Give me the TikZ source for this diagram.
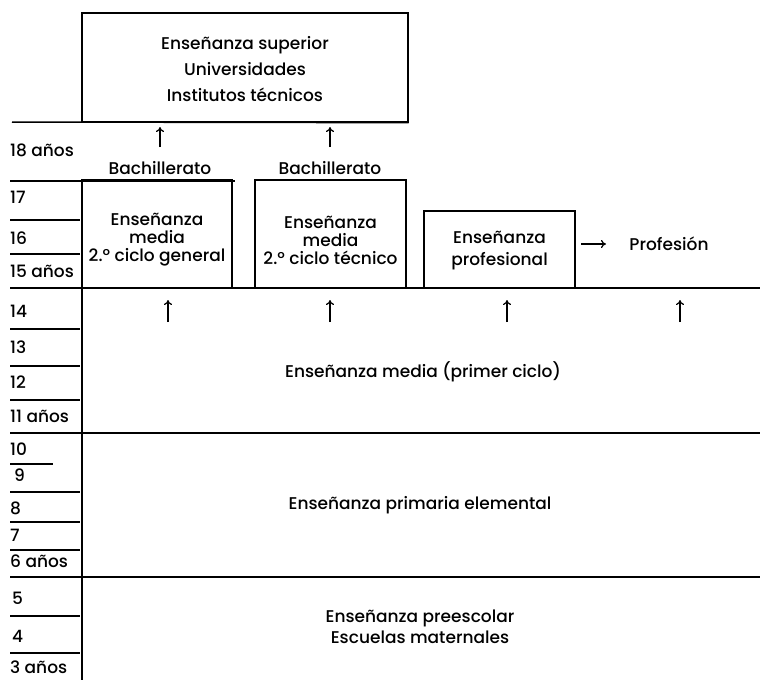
\documentclass[tikz,border=0pt]{standalone}
\usepackage{fontspec}
\setmainfont{Poppins Medium}
\usetikzlibrary{arrows.meta}
\begin{document}
\begin{tikzpicture}[x=1pt,y=-1pt,
  lbl/.style={font=\fontsize{17}{20}\selectfont, inner sep=0pt},
  age/.style={lbl, anchor=west},
  rule/.style={line width=1.5pt},
  thin/.style={line width=1.2pt},
  boxed/.style={draw, line width=1.3pt, inner sep=0pt},
  up/.style={line width=1.2pt, -{To[length=5pt,width=8pt]}}]
\useasboundingbox (0,0) rectangle (760,680);
% boxes
\node[boxed, minimum width=326pt, minimum height=109pt] (sup) at (245,67.5) {};
\node[lbl, align=center] (suptxt) at (245,69) {Enseñanza superior\\[6pt]Universidades\\[6pt]Institutos técnicos};
\node[boxed, minimum width=150pt, minimum height=108pt] (gen) at (157,234) {};
\node[lbl, align=center] (gentxt) at (157,240) {Enseñanza\\[-2pt]media\\[-2pt]2.º ciclo general};
\node[boxed, minimum width=151pt, minimum height=108pt] (tec) at (330.5,234) {};
\node[lbl, align=center] (tectxt) at (330.5,240) {Enseñanza\\[-2pt]media\\[-2pt]2.º ciclo técnico};
\node[boxed, minimum width=151pt, minimum height=77pt] (prof) at (499.5,249.5) {};
\node[lbl, align=center] (proftxt) at (499.5,251) {Enseñanza\\[2pt]profesional};
\node[lbl] (profesion) at (669,244) {Profesión};
% Bachillerato
\node[lbl] (bach1) at (160,168) {Bachillerato};
\node[lbl] (bach2) at (330,168) {Bachillerato};
% level texts
\node[lbl] (media1) at (423,372) {Enseñanza media (primer ciclo)};
\node[lbl] (prim) at (420,505) {Enseñanza primaria elemental};
\node[lbl, align=center] (pre) at (420,627) {Enseñanza preescolar\\[1pt]Escuelas maternales};
% long rules
\draw[rule] (12,122) -- (sup.south east);
\draw[rule] (10,181) -- (235,181);
\draw[rule] (10,288) -- (760,288);
\draw[rule] (10,433) -- (760,433);
\draw[rule] (10,577) -- (760,577);
\draw[rule] (82,181) -- (82,680);
% age rules
\foreach \yy in {220,254,329,366,400,492,522,550,616,653}
  \draw[thin] (10,\yy) -- (80,\yy);
\draw[thin] (10,464) -- (53,464);
% ages
\node[age] (a18) at (10,150) {18 años};
\node[age] (a17) at (10,197) {17};
\node[age] (a16) at (10,238) {16};
\node[age] (a15) at (10,271) {15 años};
\node[age] (a14) at (10,311) {14};
\node[age] (a13) at (10,347) {13};
\node[age] (a12) at (10,382) {12};
\node[age] (a11) at (10,416) {11 años};
\node[age] (a10) at (10,449) {10};
\node[age] (a9) at (14,475) {9};
\node[age] (a8) at (10,508) {8};
\node[age] (a7) at (10,535) {7};
\node[age] (a6) at (10,561) {6 años};
\node[age] (a5) at (12,598) {5};
\node[age] (a4) at (12,636) {4};
\node[age] (a3) at (10,667) {3 años};
% arrows
\coordinate (u1) at (160,147);
\coordinate (u2) at (330,147);
\coordinate (s1) at (160,127);
\coordinate (s2) at (330,127);
\draw[up] (u1) -- (s1);
\draw[up] (u2) -- (s2);
\foreach \xx/\nm in {168/g,330/t,507/p,680/f}{
  \coordinate (b\nm) at (\xx,322);
  \coordinate (e\nm) at (\xx,300);
  \draw[up] (b\nm) -- (e\nm);
}
\coordinate (pa) at (581,244);
\coordinate (pb) at (606,244);
\draw[up] (pa) -- (pb);
\end{tikzpicture}
\end{document}
